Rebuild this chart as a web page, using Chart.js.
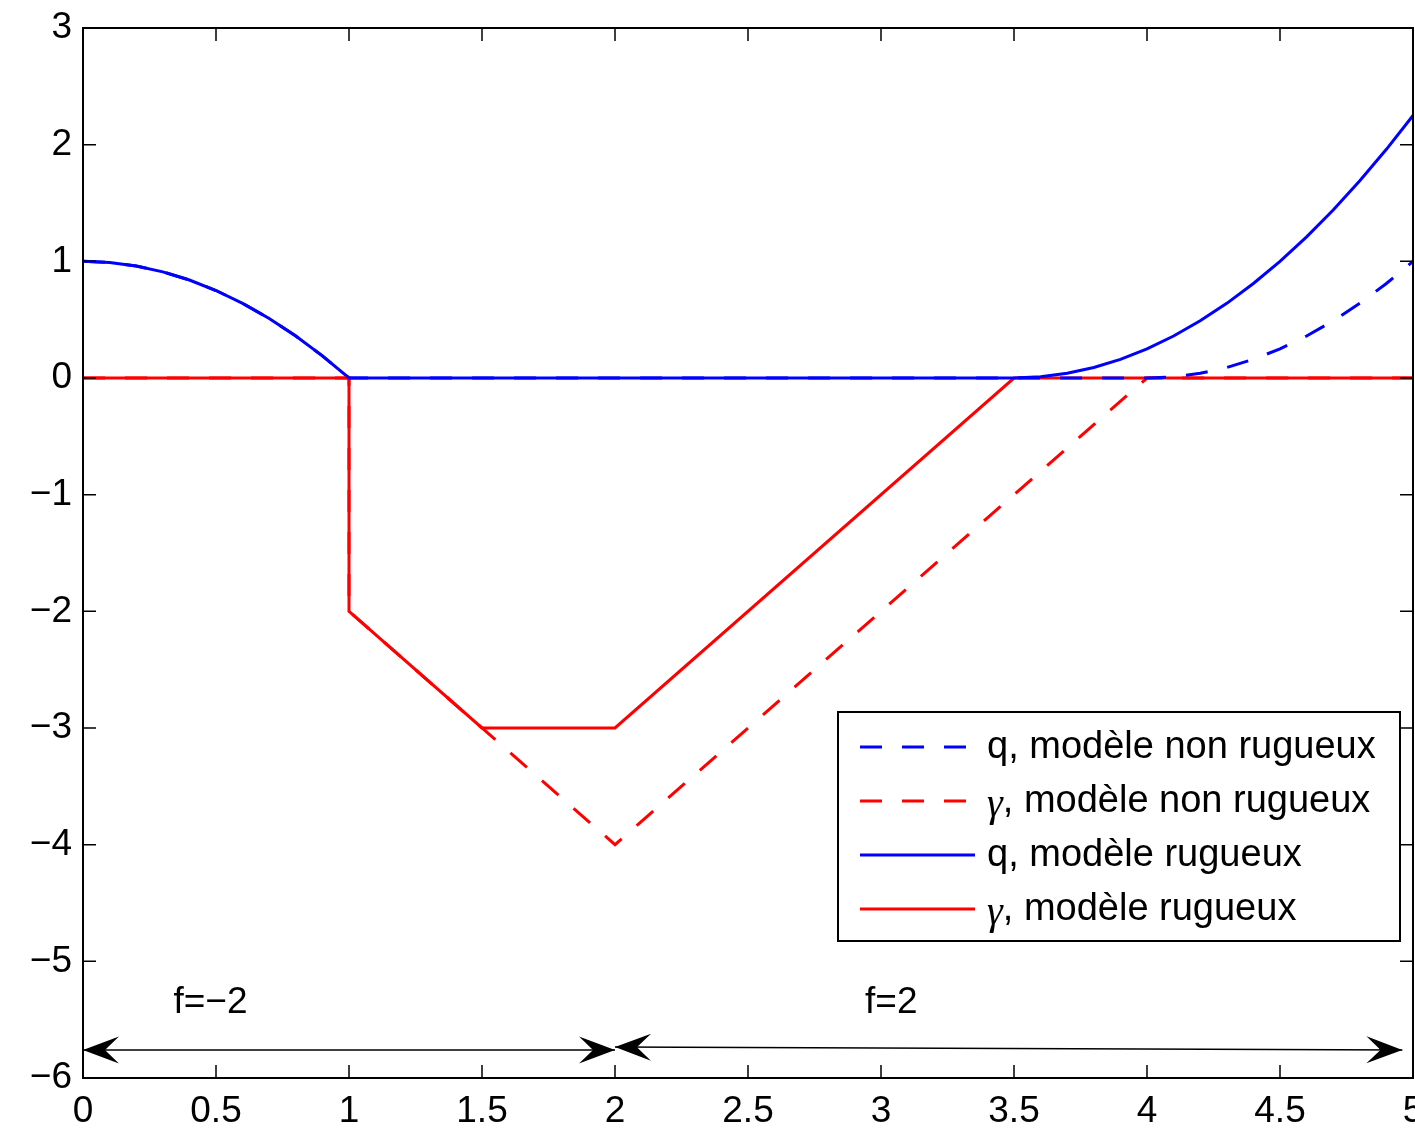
<!DOCTYPE html>
<html>
<head>
<meta charset="utf-8">
<title>q et gamma - modeles rugueux / non rugueux</title>
<script src="https://cdn.jsdelivr.net/npm/chart.js@4.4.0/dist/chart.umd.min.js"></script>
<style>
  html, body { margin: 0; padding: 0; background: #fff; }
  #wrap { width: 1415px; height: 1129px; }
</style>
</head>
<body>
<div id="wrap"><canvas id="chart" width="1415" height="1129"></canvas></div>
<script>
// Series
let seriesNames = ['q, mod\u00e8le non rugueux', '\u03b3, mod\u00e8le non rugueux', 'q, mod\u00e8le rugueux', '\u03b3, mod\u00e8le rugueux'];

let xQNonRugueux = [0, 0.1, 0.2, 0.3, 0.4, 0.5, 0.6, 0.7, 0.8, 0.9, 1.0,
                    4.0, 4.1, 4.2, 4.3, 4.4, 4.5, 4.6, 4.7, 4.8, 4.9, 5.0];
let qNonRugueux  = [1, 0.99, 0.96, 0.91, 0.84, 0.75, 0.64, 0.51, 0.36, 0.19, 0,
                    0, 0.01, 0.04, 0.09, 0.16, 0.25, 0.36, 0.49, 0.64, 0.81, 1.0];

let xGNonRugueux = [0, 1, 1, 2, 4, 5];
let gNonRugueux  = [0, 0, -2, -4, 0, 0];

let xQRugueux = [0, 0.1, 0.2, 0.3, 0.4, 0.5, 0.6, 0.7, 0.8, 0.9, 1.0,
                 3.5, 3.6, 3.7, 3.8, 3.9, 4.0, 4.1, 4.2, 4.3, 4.4, 4.5, 4.6, 4.7, 4.8, 4.9, 5.0];
let qRugueux  = [1, 0.99, 0.96, 0.91, 0.84, 0.75, 0.64, 0.51, 0.36, 0.19, 0,
                 0, 0.01, 0.04, 0.09, 0.16, 0.25, 0.36, 0.49, 0.64, 0.81, 1.0, 1.21, 1.44, 1.69, 1.96, 2.25];

let xGRugueux = [0, 1, 1, 1.5, 2, 3.5, 5];
let gRugueux  = [0, 0, -2, -3, -3, 0, 0];

// axis ticks
let xTickValues = [0, 0.5, 1, 1.5, 2, 2.5, 3, 3.5, 4, 4.5, 5];
let xTickLabels = ['0', '0.5', '1', '1.5', '2', '2.5', '3', '3.5', '4', '4.5', '5'];
let yTickValues = [-6, -5, -4, -3, -2, -1, 0, 1, 2, 3];
let yTickLabels = ['\u22126', '\u22125', '\u22124', '\u22123', '\u22122', '\u22121', '0', '1', '2', '3'];

// annotations (f regions)
let noteTexts = ['f=\u22122', 'f=2'];
let noteX = [0.34, 2.94];
let noteY = [-5.44, -5.44];
let arrowX0 = [0, 2.0];
let arrowY0 = [-5.76, -5.735];
let arrowX1 = [2.0, 4.96];
let arrowY1 = [-5.76, -5.76];

const FONT = '"Liberation Sans", Arial, Helvetica, sans-serif';
const SYMBOL_FONT = '"Liberation Serif", "DejaVu Serif", serif';
const BLUE = '#0000ff';
const RED = '#ff0000';
const DASH = [22, 20];

function toPoints(xs, ys) {
    return xs.map(function (x, i) { return { x: x, y: ys[i] }; });
}

function lineSet(name, xs, ys, color, dashed) {
    return {
        label: name,
        data: toPoints(xs, ys),
        borderColor: color,
        backgroundColor: color,
        borderWidth: 3,
        borderDash: dashed ? DASH : [],
        pointRadius: 0,
        tension: 0,
        fill: false
    };
}

// arrow head, matlab "vback2" look
function drawHead(ctx, tipX, tipY, fromX, fromY) {
    var ang = Math.atan2(tipY - fromY, tipX - fromX);
    ctx.save();
    ctx.translate(tipX, tipY);
    ctx.rotate(ang);
    ctx.beginPath();
    ctx.moveTo(0, 0);
    ctx.lineTo(-36, -13.5);
    ctx.quadraticCurveTo(-25, -3, -22, 0);
    ctx.quadraticCurveTo(-25, 3, -36, 13.5);
    ctx.closePath();
    ctx.fill();
    ctx.restore();
}

// legend label: the gamma comes from a symbol-like font, like matlab's tex
function drawLabel(ctx, text, x, y) {
    if (text.charAt(0) === '\u03b3') {
        ctx.font = 'italic 40px ' + SYMBOL_FONT;
        ctx.fillText('\u03b3', x, y + 3);
        var w = ctx.measureText('\u03b3').width;
        ctx.font = '38px ' + FONT;
        ctx.fillText(text.slice(1), x + w, y);
    } else {
        ctx.font = '38px ' + FONT;
        ctx.fillText(text, x, y);
    }
}

// frame, inward ticks, annotations and the boxed legend
const matlabAxes = {
    id: 'matlabAxes',
    afterDraw: function (chart) {
        var ctx = chart.ctx;
        var area = chart.chartArea;
        var xs = chart.scales.x;
        var ys = chart.scales.y;
        ctx.save();
        ctx.strokeStyle = '#000';
        ctx.fillStyle = '#000';

        // ticks
        ctx.lineWidth = 1.5;
        ctx.beginPath();
        xs.ticks.forEach(function (t) {
            var px = xs.getPixelForValue(t.value);
            ctx.moveTo(px, area.bottom); ctx.lineTo(px, area.bottom - 13);
            ctx.moveTo(px, area.top); ctx.lineTo(px, area.top + 13);
        });
        ys.ticks.forEach(function (t) {
            var py = ys.getPixelForValue(t.value);
            ctx.moveTo(area.left, py); ctx.lineTo(area.left + 13, py);
            ctx.moveTo(area.right, py); ctx.lineTo(area.right - 13, py);
        });
        ctx.stroke();

        // box
        ctx.lineWidth = 2;
        ctx.strokeRect(area.left, area.top, area.right - area.left, area.bottom - area.top);

        // arrows
        for (var i = 0; i < arrowX0.length; i++) {
            var ax = xs.getPixelForValue(arrowX0[i]);
            var ay = ys.getPixelForValue(arrowY0[i]);
            var bx = xs.getPixelForValue(arrowX1[i]);
            var by = ys.getPixelForValue(arrowY1[i]);
            ctx.lineWidth = 1.5;
            ctx.beginPath();
            ctx.moveTo(ax, ay);
            ctx.lineTo(bx, by);
            ctx.stroke();
            drawHead(ctx, ax, ay, bx, by);
            drawHead(ctx, bx, by, ax, ay);
        }

        // f labels
        ctx.font = '37px ' + FONT;
        ctx.textAlign = 'left';
        ctx.textBaseline = 'alphabetic';
        for (var j = 0; j < noteTexts.length; j++) {
            ctx.fillText(noteTexts[j], xs.getPixelForValue(noteX[j]), ys.getPixelForValue(noteY[j]));
        }

        // legend
        var lx = area.right - 575;
        var ly = area.top + 684;
        var lw = 562;
        var lh = 229;
        ctx.fillStyle = '#fff';
        ctx.fillRect(lx, ly, lw, lh);
        ctx.lineWidth = 2;
        ctx.strokeStyle = '#000';
        ctx.strokeRect(lx, ly, lw, lh);
        ctx.textBaseline = 'middle';
        chart.data.datasets.forEach(function (ds, k) {
            var ry = ly + 35 + k * 54;
            ctx.strokeStyle = ds.borderColor;
            ctx.lineWidth = 3;
            ctx.setLineDash(ds.borderDash || []);
            ctx.beginPath();
            ctx.moveTo(lx + 22, ry);
            ctx.lineTo(lx + 137, ry);
            ctx.stroke();
            ctx.setLineDash([]);
            ctx.fillStyle = '#000';
            drawLabel(ctx, ds.label, lx + 149, ry + 1);
        });
        ctx.restore();
    }
};

document.addEventListener('DOMContentLoaded', function () {
    Chart.defaults.font.family = FONT;
    Chart.defaults.color = '#000';

    var ctx = document.getElementById('chart').getContext('2d');
    new Chart(ctx, {
        type: 'line',
        data: {
            datasets: [
                lineSet(seriesNames[0], xQNonRugueux, qNonRugueux, BLUE, true),
                lineSet(seriesNames[1], xGNonRugueux, gNonRugueux, RED, true),
                lineSet(seriesNames[2], xQRugueux, qRugueux, BLUE, false),
                lineSet(seriesNames[3], xGRugueux, gRugueux, RED, false)
            ]
        },
        options: {
            responsive: false,
            animation: false,
            events: [],
            devicePixelRatio: 1,
            layout: { padding: { top: 28, right: 2, left: 0, bottom: 0 } },
            scales: {
                x: {
                    type: 'linear',
                    min: 0,
                    max: 5,
                    grid: { display: false, drawTicks: false },
                    border: { display: false },
                    afterBuildTicks: function (scale) {
                        scale.ticks = xTickValues.map(function (v) { return { value: v }; });
                    },
                    afterFit: function (scale) {
                        scale.height = 51;
                        scale.paddingLeft = 0;
                        scale.paddingRight = 0;
                    },
                    ticks: {
                        padding: 12,
                        maxRotation: 0,
                        autoSkip: false,
                        font: { size: 37 },
                        callback: function (v, i) { return xTickLabels[i]; }
                    }
                },
                y: {
                    type: 'linear',
                    min: -6,
                    max: 3,
                    grid: { display: false, drawTicks: false },
                    border: { display: false },
                    afterBuildTicks: function (scale) {
                        scale.ticks = yTickValues.map(function (v) { return { value: v }; });
                    },
                    afterFit: function (scale) {
                        scale.width = 83;
                        scale.paddingTop = 0;
                        scale.paddingBottom = 0;
                    },
                    ticks: {
                        padding: 11,
                        autoSkip: false,
                        font: { size: 37 },
                        callback: function (v, i) { return yTickLabels[i]; }
                    }
                }
            },
            plugins: {
                legend: { display: false },
                tooltip: { enabled: false },
                title: { display: false }
            }
        },
        plugins: [matlabAxes]
    });
});
</script>
</body>
</html>
